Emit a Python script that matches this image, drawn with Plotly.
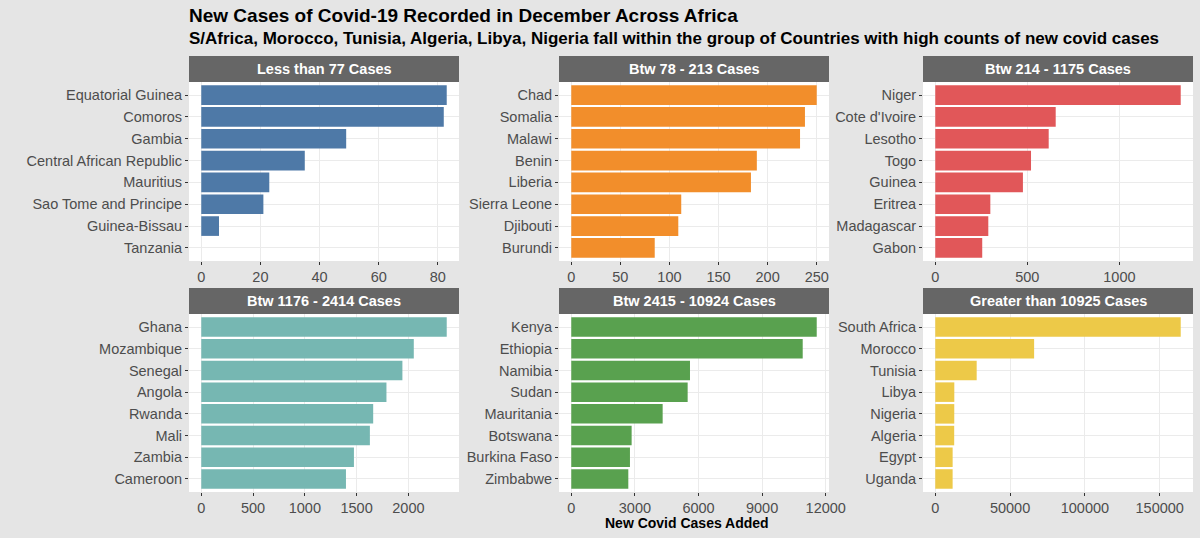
import plotly.graph_objects as go

# Titles
title = "New Cases of Covid-19 Recorded in December Across Africa"
subtitle = ("S/Africa, Morocco, Tunisia, Algeria, Libya, Nigeria fall within the group "
            "of Countries with high counts of new covid cases")
x_title = "New Covid Cases Added"

# Facet labels
groups = ["Less than 77 Cases", "Btw 78 - 213 Cases", "Btw 214 - 1175 Cases",
          "Btw 1176 - 2414 Cases", "Btw 2415 - 10924 Cases", "Greater than 10925 Cases"]

# Countries (top to bottom) and new cases per facet
g1_countries = ["Equatorial Guinea", "Comoros", "Gambia", "Central African Republic",
                "Mauritius", "Sao Tome and Principe", "Guinea-Bissau", "Tanzania"]
g1_cases = [83, 82, 49, 35, 23, 21, 6, 0]

g2_countries = ["Chad", "Somalia", "Malawi", "Benin", "Liberia", "Sierra Leone",
                "Djibouti", "Burundi"]
g2_cases = [250, 238, 233, 189, 183, 112, 109, 85]

g3_countries = ["Niger", "Cote d'Ivoire", "Lesotho", "Togo", "Guinea", "Eritrea",
                "Madagascar", "Gabon"]
g3_cases = [1333, 654, 616, 520, 476, 299, 288, 255]

g4_countries = ["Ghana", "Mozambique", "Senegal", "Angola", "Rwanda", "Mali",
                "Zambia", "Cameroon"]
g4_cases = [2370, 2052, 1942, 1788, 1660, 1628, 1474, 1397]

g5_countries = ["Kenya", "Ethiopia", "Namibia", "Sudan", "Mauritania", "Botswana",
                "Burkina Faso", "Zimbabwe"]
g5_cases = [11576, 10915, 5599, 5489, 4310, 2847, 2768, 2690]

g6_countries = ["South Africa", "Morocco", "Tunisia", "Libya", "Nigeria", "Algeria",
                "Egypt", "Uganda"]
g6_cases = [164063, 66071, 27679, 12723, 12700, 12650, 11607, 11600]

colors = ["#4E79A7", "#F28E2B", "#E15759", "#76B7B2", "#59A14F", "#EDC948"]
dticks = [20, 50, 500, 500, 3000, 50000]

panels = [(g1_countries, g1_cases), (g2_countries, g2_cases), (g3_countries, g3_cases),
          (g4_countries, g4_cases), (g5_countries, g5_cases), (g6_countries, g6_cases)]

W, H = 1200, 538
col_px = [(189, 459), (559, 829), (923, 1193)]
row_px = [(82, 261), (314, 492)]  # panel top, bottom in pixels
strip_h = 26

fig = go.Figure()
font_family = "Liberation Sans, Arial, sans-serif"

for i, (countries, cases) in enumerate(panels):
    r, c = divmod(i, 3)
    n = i + 1
    xa = "x" if n == 1 else f"x{n}"
    ya = "y" if n == 1 else f"y{n}"
    fig.add_trace(go.Bar(
        x=cases, y=countries, orientation="h", width=0.9,
        marker=dict(color=colors[i], line=dict(width=0)),
        xaxis=xa, yaxis=ya, showlegend=False, hoverinfo="x+y"
    ))

    x0, x1 = col_px[c]
    top, bottom = row_px[r]
    xdom = [x0 / W, x1 / W]
    ydom = [(H - bottom) / H, (H - top) / H]
    mx = max(cases)

    fig.update_layout({
        f"xaxis{'' if n == 1 else n}": dict(
            domain=xdom, anchor=ya, range=[-0.05 * mx, 1.05 * mx],
            dtick=dticks[i], tick0=0, tickformat="d",
            showgrid=True, gridcolor="#ebebeb", gridwidth=1, zeroline=False,
            ticks="outside", ticklen=3, tickcolor="#333333",
            tickfont=dict(size=14.5, color="#4d4d4d", family=font_family),
            showline=False, fixedrange=True, automargin=False
        ),
        f"yaxis{'' if n == 1 else n}": dict(
            domain=ydom, anchor=xa, type="category",
            categoryorder="array", categoryarray=countries,
            range=[7.6, -0.6],
            showgrid=True, gridcolor="#ebebeb", gridwidth=1, zeroline=False,
            ticks="outside", ticklen=3, tickcolor="#333333",
            tickfont=dict(size=14.5, color="#4d4d4d", family=font_family),
            showline=False, fixedrange=True, automargin=False
        ),
    })

    # facet strip
    fig.add_shape(type="rect", xref="paper", yref="paper",
                  x0=x0 / W, x1=x1 / W, y0=(H - top) / H, y1=(H - top + strip_h) / H,
                  fillcolor="#666666", line=dict(width=0), layer="above")
    fig.add_annotation(text=f"<b>{groups[i]}</b>", xref="paper", yref="paper",
                       x=(x0 + x1) / 2 / W, y=(H - top + strip_h / 2) / H,
                       xanchor="center", yanchor="middle", showarrow=False,
                       font=dict(size=14.5, color="white", family=font_family))

fig.add_annotation(text=f"<b>{title}</b>", xref="paper", yref="paper",
                   x=187 / W, y=(H - 16) / H, xanchor="left", yanchor="middle",
                   showarrow=False, font=dict(size=19, color="black", family=font_family))
fig.add_annotation(text=f"<b>{subtitle}</b>", xref="paper", yref="paper",
                   x=187 / W, y=(H - 39) / H, xanchor="left", yanchor="middle",
                   showarrow=False, font=dict(size=17, color="black", family=font_family))
fig.add_annotation(text=f"<b>{x_title}</b>", xref="paper", yref="paper",
                   x=687 / W, y=(H - 523) / H, xanchor="center", yanchor="middle",
                   showarrow=False, font=dict(size=14, color="black", family=font_family))

fig.update_layout(
    width=W, height=H,
    margin=dict(l=0, r=0, t=0, b=0, pad=0, autoexpand=False),
    paper_bgcolor="#e5e5e5", plot_bgcolor="white",
    bargap=0.1,
    font=dict(family=font_family),
)

# drop the default page margin and scrollbars so the figure fills the window
fig.write_html(
    "out.html",
    config={"displayModeBar": False, "responsive": False},
    post_script="document.body.style.margin='0';document.body.style.overflow='hidden';",
)
